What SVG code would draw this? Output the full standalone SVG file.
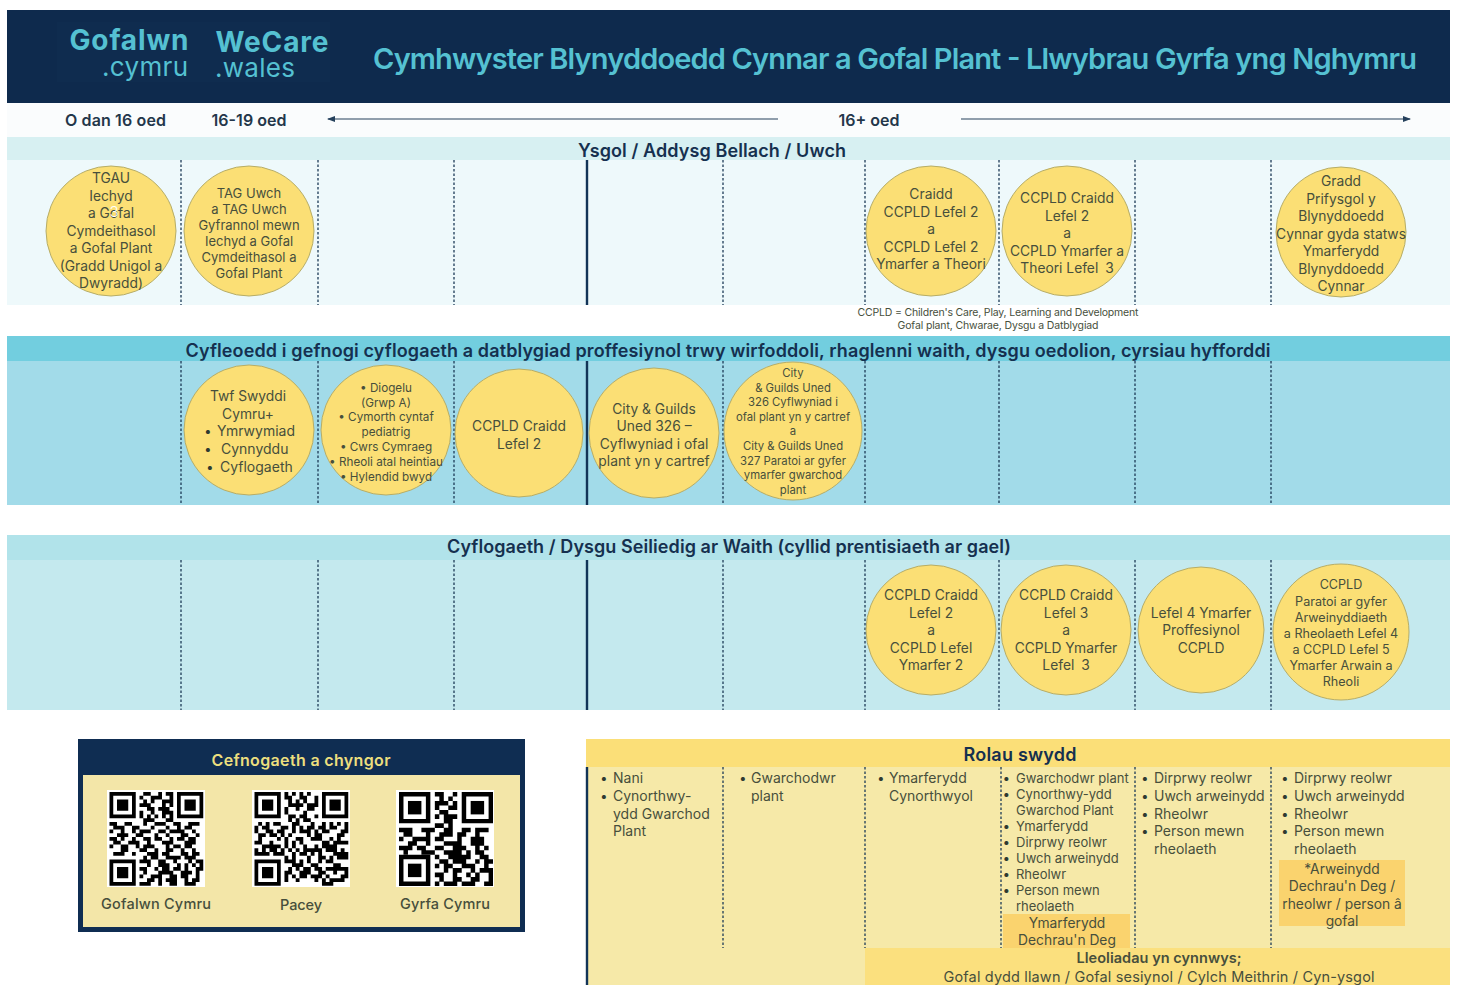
<svg xmlns="http://www.w3.org/2000/svg" xmlns:xlink="http://www.w3.org/1999/xlink" width="1457" height="985" viewBox="0 0 1457 985">
<style>
text{font-family:Inter,"Noto Sans","Liberation Sans",sans-serif;fill:#474f3c;text-anchor:middle}
.head{font-size:18px;font-weight:600;fill:#15304f}
.age{font-size:16px;font-weight:600;fill:#23364a}
.c{fill:#fbdf75;stroke:#b6ad68;stroke-width:1}
.t14{font-size:13.800px}.t13{font-size:13px}.t12{font-size:11.700px}.t113{font-size:11.300px}.t126{font-size:12.600px}
.l{text-anchor:start;font-size:14px}.s{text-anchor:start;font-size:13px}
.b{font-size:13px;font-weight:800;fill:#2e3a30}
.div{stroke:#1c3a56;stroke-width:1.3;stroke-dasharray:2.5 2;fill:none}
.solid{stroke:#123457;stroke-width:2.4;fill:none}
.arr{stroke:#24405c;stroke-width:1.2;fill:none}
.qrd{stroke:#000;stroke-width:1.02;fill:none}
.teal{fill:#55c1d2}
</style>
<defs>
<marker id="ah" markerWidth="8" markerHeight="6" refX="7" refY="3" orient="auto-start-reverse" markerUnits="userSpaceOnUse"><path d="M0 0L8 3L0 6z" fill="#24405c"/></marker>
<clipPath id="qr21"><rect width="21" height="21"/></clipPath>
<g id="finder"><path d="M0 0h7v7h-7z M1 1v5h5v-5z" fill="#000" fill-rule="evenodd"/><rect x="2" y="2" width="3" height="3" fill="#000"/></g>
<g id="finders"><use xlink:href="#finder"/><use xlink:href="#finder" x="18"/><use xlink:href="#finder" y="18"/></g>
<path id="dataA" class="qrd" d="M9 .5h2m2 0h1m1 0h2M8 1.5h1m2 0h3m2 0h1M9 2.5h1m1 0h1m2 0h3M8 3.5h3m3 0h1m1 0h1M10 4.5h2m1 0h3M8 5.5h1m2 0h1m2 0h3M8 6.5h1m1 0h1m1 0h1m1 0h1m1 0h1M9 7.5h3m3 0h2M0 8.5h2m2 0h2m3 0h1m2 0h3m2 0h2m2 0h3M1 9.5h3m2 0h2m3 0h1m3 0h1m2 0h1m1 0h2M0 10.5h1m2 0h1m2 0h1m1 0h3m2 0h2m1 0h4m2 0h1M2 11.5h3m2 0h2m3 0h1m2 0h1m3 0h2m2 0h1M0 12.5h2m1 0h1m2 0h1m2 0h2m1 0h2m2 0h1m1 0h2m1 0h2M1 13.5h2m2 0h3m2 0h1m3 0h3m3 0h3M0 14.5h1m2 0h2m2 0h1m1 0h3m3 0h1m1 0h2m1 0h2M3 15.5h2m3 0h2m2 0h1m2 0h2m2 0h1m2 0h1M1 16.5h3m2 0h1m3 0h3m1 0h2m3 0h2m1 0h2M9 17.5h1m1 0h2m2 0h4m1 0h3M8 18.5h3m2 0h2m2 0h1m3 0h1m1 0h2M10 19.5h1m2 0h3m2 0h1m1 0h1m1 0h1m1 0h1M8 20.5h2m2 0h1m1 0h2m1 0h2m1 0h1m2 0h2M9 21.5h1m3 0h4m2 0h3m1 0h1M8 22.5h1m2 0h3m2 0h2m1 0h2m2 0h1M10 23.5h2m1 0h1m1 0h3m2 0h1m1 0h2M8 24.5h3m2 0h1m2 0h2m2 0h3"/>
<path id="dataB" class="qrd" d="M8 .5h2m2 0h1M9 1.5h1m1 0h1M8 2.5h3m1 0h1M8 3.5h1m2 0h2M9 4.5h2M8 5.5h1m1 0h3M10 6.5h2M8 7.5h2m1 0h1M0 8.5h3m2 0h3m2 0h2m2 0h2m1 0h3M1 9.5h2m3 0h1m2 0h3m1 0h2m2 0h1M0 10.5h1m2 0h4m1 0h2m3 0h1m2 0h3M2 11.5h2m2 0h1m3 0h4m2 0h3M0 12.5h3m1 0h2m2 0h2m2 0h3m2 0h1m1 0h1M1 13.5h1m3 0h3m2 0h4m1 0h1m1 0h2M8 14.5h1m2 0h5m2 0h2M9 15.5h2m1 0h3m2 0h1m1 0h2M8 16.5h1m1 0h2m2 0h3m2 0h1M10 17.5h1m1 0h2m2 0h1m1 0h3M8 18.5h2m2 0h1m2 0h1m1 0h1m2 0h1M9 19.5h1m2 0h2m2 0h2m2 0h1M8 20.5h1m1 0h3m1 0h3m2 0h2"/>
</defs>
<rect width="1457" height="985" fill="#fff"/>

<g id="bands">
<rect x="7" y="10" width="1443" height="93" fill="#0e2a4d"/>
<rect x="57" y="22" width="273" height="60" fill="#0f2c4f"/>
<rect x="7" y="103" width="1443" height="34" fill="#fafcfd"/>
<rect x="7" y="137" width="1443" height="23" fill="#d7f0f2"/>
<rect x="7" y="160" width="1443" height="145" fill="#eef9fb"/>
<rect x="7" y="336" width="1443" height="25" fill="#72cedf"/>
<rect x="7" y="361" width="1443" height="144" fill="#a2dbe9"/>
<rect x="7" y="535" width="1443" height="25" fill="#b1e3ea"/>
<rect x="7" y="560" width="1443" height="150" fill="#c4e9ee"/>
<rect x="586" y="739" width="864" height="246" fill="#f6e9a8"/>
<rect x="586" y="739" width="864" height="28" fill="#fbdf78"/>
<rect x="865" y="948" width="585" height="37" fill="#fbe07e"/>
<rect x="1003" y="914" width="127" height="34" fill="#fad36e"/>
<rect x="1279" y="860" width="126" height="66" fill="#fad36e"/>
</g>

<g id="header">
<text x="129" y="50" font-size="28" font-weight="700" class="teal" textLength="119">Gofalwn</text>
<text x="145" y="76" font-size="26" class="teal" textLength="86">.cymru</text>
<text x="272" y="52" font-size="28" font-weight="700" class="teal" textLength="113">WeCare</text>
<text x="255" y="77" font-size="26" class="teal" textLength="80">.wales</text>
<text x="895" y="69" font-size="29" font-weight="600" class="teal" textLength="1044">Cymhwyster Blynyddoedd Cynnar a Gofal Plant - Llwybrau Gyrfa yng Nghymru</text>
</g>

<g id="ages">
<text x="115.500" y="126" class="age" textLength="101">O dan 16 oed</text>
<text x="249" y="126" class="age" textLength="75">16-19 oed</text>
<text x="869" y="125.500" class="age" textLength="61">16+ oed</text>
</g>

<g id="connectors">
<path class="arr" d="M778 119H328" marker-end="url(#ah)"/>
<path class="arr" d="M961 119H1410" marker-end="url(#ah)"/>
</g>

<g id="dividers">
<path class="div" d="M181 160V305M318 160V305M454 160V305M723 160V305M865 160V305M999 160V305M1135 160V305M1271 160V305"/>
<path class="div" d="M181 361V505M318 361V505M454 361V505M723 361V505M865 361V505M999 361V505M1135 361V505M1271 361V505"/>
<path class="div" d="M181 560V710M318 560V710M454 560V710M723 560V710M865 560V710M999 560V710M1135 560V710M1271 560V710"/>
<path class="div" d="M723 767V948M865 767V948M1001 767V948M1135 767V948M1271 767V948"/>
<path class="solid" d="M587 160V305M587 361V505M587 560V710M587 767V985"/>
</g>

<g id="band-titles">
<text x="712" y="156.500" class="head" textLength="268">Ysgol / Addysg Bellach / Uwch</text>
<text x="728" y="356.500" class="head" textLength="1085">Cyfleoedd i gefnogi cyflogaeth a datblygiad proffesiynol trwy wirfoddoli, rhaglenni waith, dysgu oedolion, cyrsiau hyfforddi</text>
<text x="729" y="553" class="head" textLength="564">Cyflogaeth / Dysgu Seiliedig ar Waith (cyllid prentisiaeth ar gael)</text>
<text x="1020" y="760.500" class="head" textLength="113">Rolau swydd</text>
</g>

<g id="n-tgau"><circle class="c" cx="111" cy="231" r="65"/>
<text class="t14"><tspan x="111" y="183">TGAU</tspan><tspan x="111" y="201">Iechyd</tspan><tspan x="111" y="218">a Gofal</tspan><tspan x="111" y="236">Cymdeithasol</tspan><tspan x="111" y="253">a Gofal Plant</tspan><tspan x="111" y="271">(Gradd Unigol a</tspan><tspan x="111" y="288">Dwyradd)</tspan></text>
<text x="114" y="217" font-size="15" font-weight="300" style="fill:#fff">3</text></g>
<g id="n-tag"><circle class="c" cx="249" cy="231" r="65"/>
<text class="t13"><tspan x="249" y="198">TAG Uwch</tspan><tspan x="249" y="214">a TAG Uwch</tspan><tspan x="249" y="230">Gyfrannol mewn</tspan><tspan x="249" y="246">Iechyd a Gofal</tspan><tspan x="249" y="262">Cymdeithasol a</tspan><tspan x="249" y="278">Gofal Plant</tspan></text></g>
<g id="n-craidd2"><circle class="c" cx="931" cy="231" r="65"/>
<text class="t14"><tspan x="931" y="199">Craidd</tspan><tspan x="931" y="217">CCPLD Lefel 2</tspan><tspan x="931" y="234">a</tspan><tspan x="931" y="252">CCPLD Lefel 2</tspan><tspan x="931" y="269">Ymarfer a Theori</tspan></text></g>
<g id="n-craidd3"><circle class="c" cx="1067" cy="231" r="65"/>
<text class="t14"><tspan x="1067" y="203">CCPLD Craidd</tspan><tspan x="1067" y="221">Lefel 2</tspan><tspan x="1067" y="238">a</tspan><tspan x="1067" y="256">CCPLD Ymarfer a</tspan><tspan x="1067" y="273">Theori Lefel <tspan dx="3">3</tspan></tspan></text></g>
<g id="n-gradd"><circle class="c" cx="1341" cy="232" r="65"/>
<text class="t14"><tspan x="1341" y="186">Gradd</tspan><tspan x="1341" y="204">Prifysgol y</tspan><tspan x="1341" y="221">Blynyddoedd</tspan><tspan x="1341" y="239">Cynnar gyda statws</tspan><tspan x="1341" y="256">Ymarferydd</tspan><tspan x="1341" y="274">Blynyddoedd</tspan><tspan x="1341" y="291">Cynnar</tspan></text></g>

<g id="ccpld-note">
<text x="998" y="316" font-size="10.500" textLength="281">CCPLD = Children's Care, Play, Learning and Development</text>
<text x="998" y="329" font-size="10.500" textLength="201">Gofal plant, Chwarae, Dysgu a Datblygiad</text>
</g>

<g id="n-twf"><circle class="c" cx="249" cy="430" r="65"/>
<text class="t14"><tspan x="248" y="401">Twf Swyddi</tspan><tspan x="248" y="419">Cymru+</tspan></text>
<text class="l"><tspan class="b" x="205" y="436">•</tspan><tspan x="217" y="436">Ymrwymiad</tspan><tspan class="b" x="205" y="454">•</tspan><tspan x="221" y="454">Cynnyddu</tspan><tspan class="b" x="207" y="472">•</tspan><tspan x="220" y="472">Cyflogaeth</tspan></text></g>
<g id="n-diogelu"><circle class="c" cx="386" cy="430" r="65"/>
<text class="t12"><tspan x="386" y="392">•  Diogelu</tspan><tspan x="386" y="407">(Grwp A)</tspan><tspan x="386" y="421">•  Cymorth cyntaf</tspan><tspan x="386" y="436">pediatrig</tspan><tspan x="386" y="451">•  Cwrs Cymraeg</tspan><tspan x="386" y="466">•  Rheoli atal heintiau</tspan><tspan x="386" y="481">•  Hylendid bwyd</tspan></text></g>
<g id="n-ccpld"><circle class="c" cx="519" cy="433" r="64"/>
<text class="t14"><tspan x="519" y="431">CCPLD Craidd</tspan><tspan x="519" y="449">Lefel 2</tspan></text></g>
<g id="n-cg326"><circle class="c" cx="654" cy="433" r="65"/>
<text class="t14"><tspan x="654" y="414">City &amp; Guilds</tspan><tspan x="654" y="431">Uned 326 –</tspan><tspan x="654" y="449">Cyflwyniad i ofal</tspan><tspan x="654" y="466">plant yn y cartref</tspan></text></g>
<g id="n-cg327"><circle class="c" cx="793" cy="431" r="69"/>
<text class="t113"><tspan x="793" y="377">City</tspan><tspan x="793" y="392">&amp; Guilds Uned</tspan><tspan x="793" y="406">326 Cyflwyniad i</tspan><tspan x="793" y="421">ofal plant yn y cartref</tspan><tspan x="793" y="435">a</tspan><tspan x="793" y="450">City &amp; Guilds Uned</tspan><tspan x="793" y="465">327 Paratoi ar gyfer</tspan><tspan x="793" y="479">ymarfer gwarchod</tspan><tspan x="793" y="494">plant</tspan></text></g>

<g id="n-w2"><circle class="c" cx="931" cy="630" r="65"/>
<text class="t14"><tspan x="931" y="600">CCPLD Craidd</tspan><tspan x="931" y="618">Lefel 2</tspan><tspan x="931" y="635">a</tspan><tspan x="931" y="653">CCPLD Lefel</tspan><tspan x="931" y="670">Ymarfer 2</tspan></text></g>
<g id="n-w3"><circle class="c" cx="1066" cy="630" r="65"/>
<text class="t14"><tspan x="1066" y="600">CCPLD Craidd</tspan><tspan x="1066" y="618">Lefel 3</tspan><tspan x="1066" y="635">a</tspan><tspan x="1066" y="653">CCPLD Ymarfer</tspan><tspan x="1066" y="670">Lefel <tspan dx="3">3</tspan></tspan></text></g>
<g id="n-w4"><circle class="c" cx="1201" cy="630" r="63"/>
<text class="t14"><tspan x="1201" y="618">Lefel 4 Ymarfer</tspan><tspan x="1201" y="635">Proffesiynol</tspan><tspan x="1201" y="653">CCPLD</tspan></text></g>
<g id="n-w5"><circle class="c" cx="1341" cy="632" r="68"/>
<text class="t126"><tspan x="1341" y="589">CCPLD</tspan><tspan x="1341" y="606">Paratoi ar gyfer</tspan><tspan x="1341" y="622">Arweinyddiaeth</tspan><tspan x="1341" y="638">a Rheolaeth Lefel 4</tspan><tspan x="1341" y="654">a CCPLD Lefel 5</tspan><tspan x="1341" y="670">Ymarfer Arwain a</tspan><tspan x="1341" y="686">Rheoli</tspan></text></g>

<g id="support">
<rect x="78" y="739" width="447" height="193" fill="#0f2d52"/>
<rect x="83" y="775" width="437" height="152" fill="#f3e6a8"/>
<text x="301" y="766" font-size="16" font-weight="600" style="fill:#ecdf7e" textLength="179">Cefnogaeth a chyngor</text>
<g id="qr1"><rect x="107" y="790" width="98" height="97" fill="#fff"/><g transform="translate(109.500 792) scale(3.75)"><use xlink:href="#finders"/><use xlink:href="#dataA"/></g></g>
<g id="qr2"><rect x="252" y="790" width="98" height="97" fill="#fff"/><g transform="translate(254.500 792) scale(3.75)"><use xlink:href="#finders"/><use xlink:href="#dataA" transform="matrix(0 1 1 0 0 0)"/></g></g>
<g id="qr3"><rect x="396" y="790" width="98" height="97" fill="#fff"/><g transform="translate(399 792) scale(4.480)" clip-path="url(#qr21)"><use xlink:href="#finder"/><use xlink:href="#finder" x="14"/><use xlink:href="#finder" y="14"/><use xlink:href="#dataB"/></g></g>
<text x="156" y="909" font-size="14.500" font-weight="500" textLength="110">Gofalwn Cymru</text>
<text x="301" y="910" font-size="14.500" font-weight="500" textLength="42">Pacey</text>
<text x="445" y="909" font-size="14.500" font-weight="500" textLength="90">Gyrfa Cymru</text>
</g>

<g id="roles">
<g id="role1"><text class="l"><tspan class="b" x="601" y="783">•</tspan><tspan x="613" y="783">Nani</tspan><tspan class="b" x="601" y="801">•</tspan><tspan x="613" y="801">Cynorthwy-</tspan><tspan x="613" y="819">ydd Gwarchod</tspan><tspan x="613" y="836">Plant</tspan></text></g>
<g id="role2"><text class="l"><tspan class="b" x="740" y="783">•</tspan><tspan x="751" y="783">Gwarchodwr</tspan><tspan x="751" y="801">plant</tspan></text></g>
<g id="role3"><text class="l"><tspan class="b" x="878" y="783">•</tspan><tspan x="889" y="783">Ymarferydd</tspan><tspan x="889" y="801">Cynorthwyol</tspan></text></g>
<g id="role4"><text class="s"><tspan class="b" x="1003.500" y="783">•</tspan><tspan x="1016" y="783">Gwarchodwr plant</tspan><tspan class="b" x="1003.500" y="799">•</tspan><tspan x="1016" y="799">Cynorthwy-ydd</tspan><tspan x="1016" y="815">Gwarchod Plant</tspan><tspan class="b" x="1003.500" y="831">•</tspan><tspan x="1016" y="831">Ymarferydd</tspan><tspan class="b" x="1003.500" y="847">•</tspan><tspan x="1016" y="847">Dirprwy reolwr</tspan><tspan class="b" x="1003.500" y="863">•</tspan><tspan x="1016" y="863">Uwch arweinydd</tspan><tspan class="b" x="1003.500" y="879">•</tspan><tspan x="1016" y="879">Rheolwr</tspan><tspan class="b" x="1003.500" y="895">•</tspan><tspan x="1016" y="895">Person mewn</tspan><tspan x="1016" y="911">rheolaeth</tspan></text>
<text class="t14"><tspan x="1067" y="928">Ymarferydd</tspan><tspan x="1067" y="945">Dechrau'n Deg</tspan></text></g>
<g id="role5"><text class="l"><tspan class="b" x="1142" y="783">•</tspan><tspan x="1154" y="783">Dirprwy reolwr</tspan><tspan class="b" x="1142" y="801">•</tspan><tspan x="1154" y="801">Uwch arweinydd</tspan><tspan class="b" x="1142" y="819">•</tspan><tspan x="1154" y="819">Rheolwr</tspan><tspan class="b" x="1142" y="836">•</tspan><tspan x="1154" y="836">Person mewn</tspan><tspan x="1154" y="854">rheolaeth</tspan></text></g>
<g id="role6"><text class="l"><tspan class="b" x="1282" y="783">•</tspan><tspan x="1294" y="783">Dirprwy reolwr</tspan><tspan class="b" x="1282" y="801">•</tspan><tspan x="1294" y="801">Uwch arweinydd</tspan><tspan class="b" x="1282" y="819">•</tspan><tspan x="1294" y="819">Rheolwr</tspan><tspan class="b" x="1282" y="836">•</tspan><tspan x="1294" y="836">Person mewn</tspan><tspan x="1294" y="854">rheolaeth</tspan></text>
<text class="t14"><tspan x="1342" y="874">*Arweinydd</tspan><tspan x="1342" y="891">Dechrau'n Deg /</tspan><tspan x="1342" y="909">rheolwr / person â</tspan><tspan x="1342" y="926">gofal</tspan></text></g>
<g id="settings">
<text x="1159" y="963" font-size="14.500" font-weight="600" textLength="165">Lleoliadau yn cynnwys;</text>
<text x="1159" y="982" font-size="14.500" textLength="431">Gofal dydd llawn / Gofal sesiynol / Cylch Meithrin / Cyn-ysgol</text>
</g>
</g>
</svg>
